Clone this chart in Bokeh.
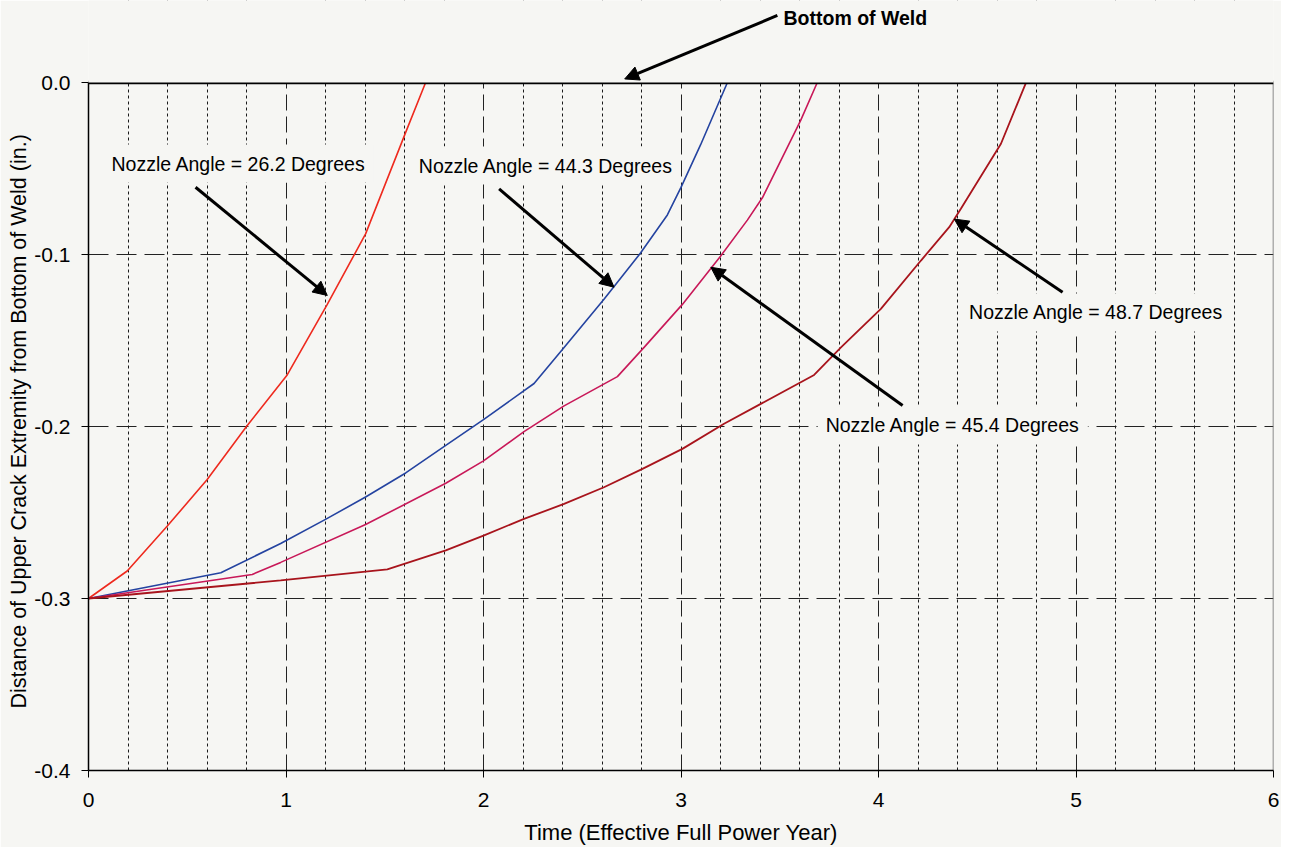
from bokeh.plotting import figure
from bokeh.models import (FixedTicker, NumeralTickFormatter, Grid, Label,
                          Arrow, NormalHead, BoxAnnotation)
from bokeh.embed import file_html
from bokeh.resources import INLINE

# ---- data ----
t_262 = [0.0, 0.196, 0.398, 0.6, 0.8, 1.006, 1.209, 1.403, 1.606, 1.707]
d_262 = [-0.300, -0.284, -0.258, -0.231, -0.200, -0.170, -0.129, -0.088, -0.029, 0.0]

t_443 = [0.0, 0.67, 0.973, 1.2, 1.403, 1.606, 1.809, 2.0, 2.256, 2.408, 2.61,
         2.796, 2.931, 3.0, 3.10, 3.235]
d_443 = [-0.300, -0.285, -0.268, -0.254, -0.241, -0.227, -0.211, -0.196, -0.175,
         -0.154, -0.126, -0.099, -0.077, -0.061, -0.036, 0.0]

t_454 = [0.0, 0.829, 0.973, 1.403, 1.809, 2.0, 2.205, 2.408, 2.678, 2.813, 3.007,
         3.20, 3.336, 3.412, 3.606, 3.69]
d_454 = [-0.300, -0.286, -0.279, -0.257, -0.233, -0.220, -0.203, -0.188, -0.171,
         -0.154, -0.129, -0.101, -0.080, -0.067, -0.022, 0.0]

t_487 = [0.0, 0.973, 1.513, 1.809, 2.0, 2.205, 2.408, 2.61, 2.805, 3.007, 3.218,
         3.674, 3.81, 4.012, 4.215, 4.358, 4.417, 4.62, 4.747]
d_487 = [-0.300, -0.2895, -0.283, -0.272, -0.2634, -0.2537, -0.245, -0.2353, -0.2246,
         -0.213, -0.1984, -0.170, -0.154, -0.1316, -0.1035, -0.0841, -0.0734, -0.0356, 0.0]

x_ticks = [0, 1, 2, 3, 4, 5, 6]
y_ticks = [-0.4, -0.3, -0.2, -0.1, 0.0]
major_x_grid = [1, 2, 3, 4, 5]
minor_x_grid = [0.2, 0.4, 0.6, 0.8, 1.2, 1.4, 1.6, 1.8, 2.2, 2.4, 2.6, 2.8,
                3.2, 3.4, 3.6, 3.8, 4.2, 4.4, 4.6, 4.8, 5.2, 5.4, 5.6, 5.8]
y_grid = [-0.3, -0.2, -0.1]

PAPER = "#f6f6f3"
FONT = "Liberation Sans"
Y_TOP = 0.0477  # headroom above the plot for the "Bottom of Weld" callout

p = figure(frame_width=1185, frame_height=770,
           x_range=(x_ticks[0], x_ticks[-1]), y_range=(y_ticks[0], Y_TOP),
           output_backend="svg", toolbar_location=None,
           min_border_left=88, min_border_right=8, min_border_top=0,
           min_border_bottom=60)
p.background_fill_color = PAPER
p.border_fill_color = PAPER
p.outline_line_color = None

# axes
p.xaxis.ticker = FixedTicker(ticks=x_ticks)
p.yaxis.ticker = FixedTicker(ticks=y_ticks)
p.yaxis.formatter = NumeralTickFormatter(format="0.0")
p.yaxis.bounds = (y_ticks[0], y_ticks[-1])
for ax in (p.xaxis[0], p.yaxis[0]):
    ax.axis_line_color = "black"
    ax.axis_line_width = 1.5
    ax.major_tick_line_color = "black"
    ax.major_tick_out = 7
    ax.major_tick_in = 0
    ax.minor_tick_line_color = None
    ax.major_label_text_font = FONT
    ax.major_label_text_font_size = "21px"
    ax.major_label_text_color = "black"
    ax.axis_label_text_font = FONT
    ax.axis_label_text_font_style = "normal"
    ax.axis_label_text_font_size = "22px"
    ax.axis_label_text_color = "black"
p.yaxis.axis_label_text_font_size = "21.5px"
p.xaxis.major_label_standoff = 15
p.yaxis.major_label_standoff = 11
p.xaxis.axis_label = "Time (Effective Full Power Year)"
# trailing no-break spaces push the centred label down to the middle of the plot area
p.yaxis.axis_label = ("Distance of Upper Crack Extremity from Bottom of Weld (in.)"
                      + "\u00a0" * 12)
p.xaxis.axis_label_standoff = 10
p.yaxis.axis_label_standoff = 0

# grids
p.ygrid.ticker = FixedTicker(ticks=y_grid)
p.ygrid.grid_line_color = "#222222"
p.ygrid.grid_line_dash = "20 8"
p.ygrid.grid_line_width = 1
p.xgrid.ticker = FixedTicker(ticks=major_x_grid)
p.xgrid.grid_line_color = "#222222"
p.xgrid.grid_line_dash = "16 6"
p.xgrid.grid_line_width = 1
minor = Grid(dimension=0, ticker=FixedTicker(ticks=minor_x_grid),
             grid_line_color="#1a1a1a", grid_line_dash="3 3", grid_line_width=1)
p.add_layout(minor)

# hide the grid above the top of the plotting area
p.add_layout(BoxAnnotation(bottom=y_ticks[-1], fill_color=PAPER, fill_alpha=1.0,
                           line_color=None))

# right frame edge
p.line([x_ticks[-1], x_ticks[-1]], [y_ticks[0], y_ticks[-1]],
       line_color="#666666", line_width=1.5)

# curves
p.line(t_262, d_262, line_color="#ee2a1e", line_width=1.6)
p.line(t_443, d_443, line_color="#2443a0", line_width=1.6)
p.line(t_454, d_454, line_color="#c81858", line_width=1.6)
p.line(t_487, d_487, line_color="#a8141c", line_width=1.8)

# top line = bottom of weld
p.line([x_ticks[0], x_ticks[-1]], [y_ticks[-1], y_ticks[-1]],
       line_color="black", line_width=3.5)

# annotations
def lab(x, y, txt, bold=False, bg=True):
    l = Label(x=x, y=y, text=txt, text_font=FONT, text_font_size="19.5px",
              text_color="black", text_baseline="middle", text_align="left",
              text_font_style="bold" if bold else "normal")
    if bg:
        l.background_fill_color = PAPER
        l.padding = 8
    p.add_layout(l)

def arr(x0, y0, x1, y1):
    p.add_layout(Arrow(end=NormalHead(size=14, fill_color="black", line_color="black"),
                       x_start=x0, y_start=y0, x_end=x1, y_end=y1,
                       line_color="black", line_width=3))

lab(0.076, -0.0471, "Nozzle Angle = 26.2 Degrees")
lab(1.632, -0.0483, "Nozzle Angle = 44.3 Degrees")
lab(3.692, -0.1994, "Nozzle Angle = 45.4 Degrees")
lab(4.418, -0.1337, "Nozzle Angle = 48.7 Degrees")
lab(3.519, 0.0378, "Bottom of Weld", bold=True, bg=False)

arr(0.542, -0.0609, 1.209, -0.1238)
arr(2.079, -0.0618, 2.661, -0.119)
arr(4.122, -0.1878, 3.151, -0.1074)
arr(4.932, -0.1219, 4.384, -0.0794)
arr(3.488, 0.039, 2.715, 0.0021)

open("out.html", "w").write(file_html(p, INLINE))
